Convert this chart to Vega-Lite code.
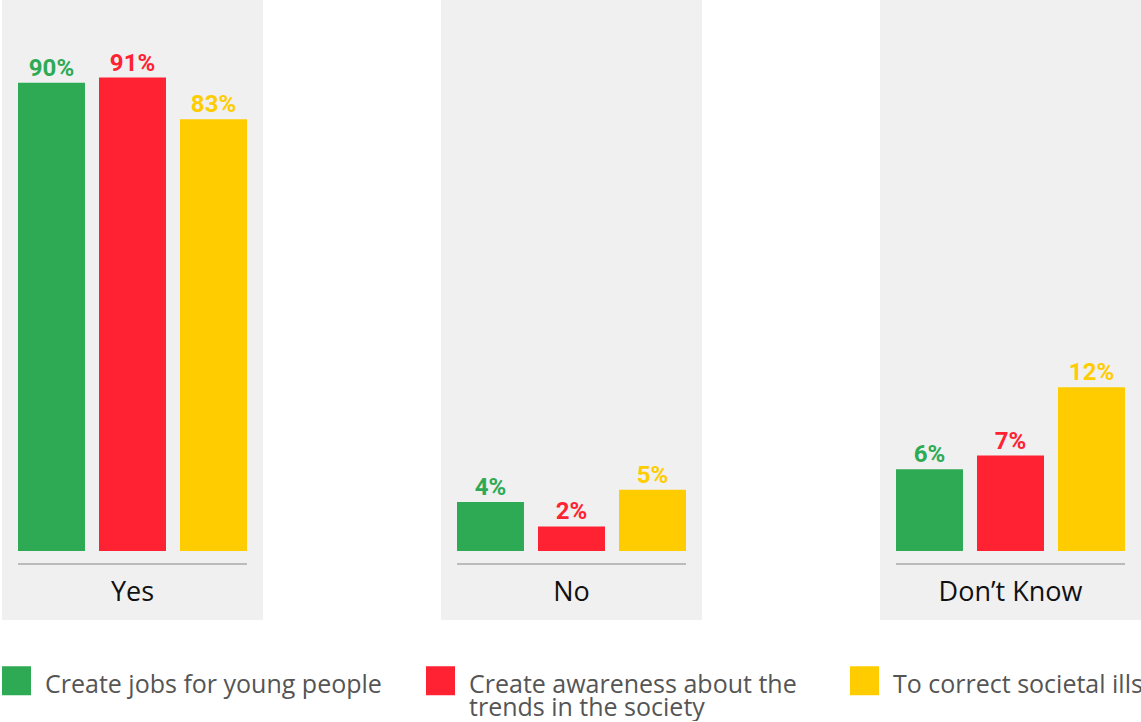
{
  "$schema": "https://vega.github.io/schema/vega-lite/v6.json",
  "padding": {"left": 2, "top": 0, "right": 0, "bottom": 0},
  "background": "white",
  "spacing": 178,
  "data": {"values": [
    {"answer": "Yes", "series": "Create jobs for young people", "value": 90, "label": "90%"},
    {"answer": "Yes", "series": "Create awareness about the trends in the society", "value": 91, "label": "91%"},
    {"answer": "Yes", "series": "To correct societal ills", "value": 83, "label": "83%"},
    {"answer": "No", "series": "Create jobs for young people", "value": 4, "label": "4%"},
    {"answer": "No", "series": "Create awareness about the trends in the society", "value": 2, "label": "2%"},
    {"answer": "No", "series": "To correct societal ills", "value": 5, "label": "5%"},
    {"answer": "Don’t Know", "series": "Create jobs for young people", "value": 6, "label": "6%"},
    {"answer": "Don’t Know", "series": "Create awareness about the trends in the society", "value": 7, "label": "7%"},
    {"answer": "Don’t Know", "series": "To correct societal ills", "value": 12, "label": "12%"}
  ]},
  "config": {
    "view": {"fill": "#f0f0f0", "stroke": null},
    "font": "Open Sans",
    "legend": {
      "orient": "bottom", "direction": "horizontal", "columns": 3, "gridAlign": "all",
      "columnPadding": 44, "symbolType": "square", "symbolSize": 841, "symbolStrokeWidth": 0,
      "symbolOpacity": 1, "labelFontSize": 25, "labelColor": "#555555", "labelFont": "Open Sans",
      "labelOffset": 14, "labelLimit": 600, "offset": 46, "padding": 0, "labelBaseline": "alphabetic"
    }
  },
  "hconcat": [
    {
      "width": 261, "height": 620,
      "transform": [{"filter": "datum.answer == 'Yes'"}],
      "encoding": {"x": {"field": "series", "type": "nominal", "axis": null,
        "sort": ["Create jobs for young people", "Create awareness about the trends in the society", "To correct societal ills"],
        "scale": {"paddingInner": 0.173, "paddingOuter": 0.1975}}},
      "layer": [
        {"mark": {"type": "bar"},
         "encoding": {
           "y": {"field": "value", "type": "quantitative", "axis": null, "scale": {"domain": [-13.26, 105.9], "nice": false, "zero": false}},
           "y2": {"datum": 0},
           "color": {"field": "series", "type": "nominal",
             "scale": {"domain": ["Create jobs for young people", "Create awareness about the trends in the society", "To correct societal ills"], "range": ["#2eaa55", "#ff2233", "#ffcc00"]},
             "legend": {"title": null,
               "labelExpr": "datum.label == 'Create awareness about the trends in the society' ? ['Create awareness about the', 'trends in the society'] : [datum.label, '']",
               "encode": {"labels": {"update": {"dy": {"value": 12}, "lineHeight": {"value": 23}}}}}}}},
        {"mark": {"type": "text", "dy": -7, "baseline": "alphabetic", "fontSize": 24, "fontWeight": "bold", "font": "Roboto"},
         "encoding": {"y": {"field": "value", "type": "quantitative"}, "text": {"field": "label"}, "color": {"field": "series", "type": "nominal"}}},
        {"transform": [{"filter": "datum.series == 'Create jobs for young people'"}],
         "mark": {"type": "rule", "color": "#bbbbbb", "strokeWidth": 2},
         "encoding": {"y": {"datum": -2.5},
           "x": {"datum": "Create jobs for young people", "bandPosition": 0},
           "x2": {"datum": "To correct societal ills", "bandPosition": 1}}},
        {"transform": [{"filter": "datum.series == 'Create awareness about the trends in the society'"}],
         "mark": {"type": "text", "fontSize": 27, "color": "#111111", "baseline": "middle"},
         "encoding": {"y": {"datum": -8.07}, "text": {"field": "answer"}}}
      ]
    },
    {
      "width": 261, "height": 620,
      "transform": [{"filter": "datum.answer == 'No'"}],
      "encoding": {"x": {"field": "series", "type": "nominal", "axis": null,
        "sort": ["Create jobs for young people", "Create awareness about the trends in the society", "To correct societal ills"],
        "scale": {"paddingInner": 0.173, "paddingOuter": 0.1975}}},
      "layer": [
        {"mark": {"type": "bar"},
         "encoding": {
           "y": {"field": "value", "type": "quantitative", "axis": null, "scale": {"domain": [-5.62, 44.9], "nice": false, "zero": false}},
           "y2": {"datum": 0},
           "color": {"field": "series", "type": "nominal"}}},
        {"mark": {"type": "text", "dy": -7, "baseline": "alphabetic", "fontSize": 24, "fontWeight": "bold", "font": "Roboto"},
         "encoding": {"y": {"field": "value", "type": "quantitative"}, "text": {"field": "label"}, "color": {"field": "series", "type": "nominal"}}},
        {"transform": [{"filter": "datum.series == 'Create jobs for young people'"}],
         "mark": {"type": "rule", "color": "#bbbbbb", "strokeWidth": 2},
         "encoding": {"y": {"datum": -1.06},
           "x": {"datum": "Create jobs for young people", "bandPosition": 0},
           "x2": {"datum": "To correct societal ills", "bandPosition": 1}}},
        {"transform": [{"filter": "datum.series == 'Create awareness about the trends in the society'"}],
         "mark": {"type": "text", "fontSize": 27, "color": "#111111", "baseline": "middle"},
         "encoding": {"y": {"datum": -3.42}, "text": {"field": "answer"}}}
      ]
    },
    {
      "width": 261, "height": 620,
      "transform": [{"filter": "datum.answer == 'Don’t Know'"}],
      "encoding": {"x": {"field": "series", "type": "nominal", "axis": null,
        "sort": ["Create jobs for young people", "Create awareness about the trends in the society", "To correct societal ills"],
        "scale": {"paddingInner": 0.173, "paddingOuter": 0.1975}}},
      "layer": [
        {"mark": {"type": "bar"},
         "encoding": {
           "y": {"field": "value", "type": "quantitative", "axis": null, "scale": {"domain": [-5.06, 40.4], "nice": false, "zero": false}},
           "y2": {"datum": 0},
           "color": {"field": "series", "type": "nominal"}}},
        {"mark": {"type": "text", "dy": -7, "baseline": "alphabetic", "fontSize": 24, "fontWeight": "bold", "font": "Roboto"},
         "encoding": {"y": {"field": "value", "type": "quantitative"}, "text": {"field": "label"}, "color": {"field": "series", "type": "nominal"}}},
        {"transform": [{"filter": "datum.series == 'Create jobs for young people'"}],
         "mark": {"type": "rule", "color": "#bbbbbb", "strokeWidth": 2},
         "encoding": {"y": {"datum": -0.953},
           "x": {"datum": "Create jobs for young people", "bandPosition": 0},
           "x2": {"datum": "To correct societal ills", "bandPosition": 1}}},
        {"transform": [{"filter": "datum.series == 'Create awareness about the trends in the society'"}],
         "mark": {"type": "text", "fontSize": 27, "color": "#111111", "baseline": "middle"},
         "encoding": {"y": {"datum": -3.08}, "text": {"field": "answer"}}}
      ]
    }
  ]
}
